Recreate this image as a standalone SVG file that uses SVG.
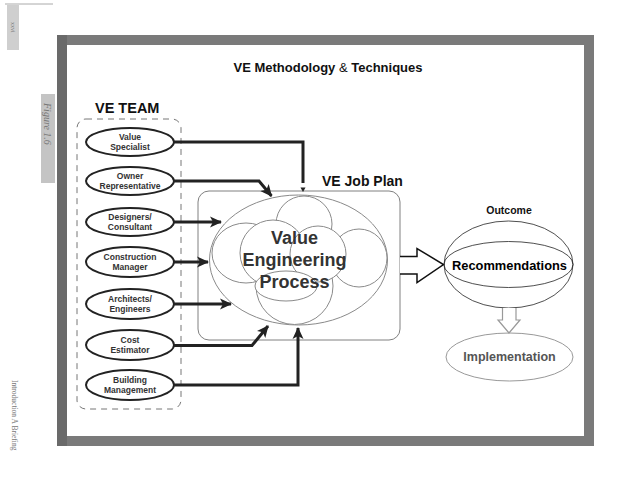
<svg xmlns="http://www.w3.org/2000/svg" width="638" height="493" viewBox="0 0 638 493">
<defs>
<style>
.lbl{font-family:"Liberation Sans",Arial,sans-serif;font-weight:bold;text-anchor:middle}
.team ellipse{fill:#fff;stroke:#222;stroke-width:2}
.team text{font-family:"Liberation Sans",Arial,sans-serif;font-weight:bold;font-size:8.5px;fill:#333;text-anchor:middle}
.cloud{fill:#fff;stroke:#8a8a8a;stroke-width:1}
.conn{fill:none;stroke:#222;stroke-width:3;marker-end:url(#ah)}
.side{font-family:"Liberation Serif","Times New Roman",serif;fill:#777}
</style>
<marker id="ah" markerUnits="userSpaceOnUse" markerWidth="12" markerHeight="12" viewBox="0 0 12 12" refX="11" refY="6" orient="auto">
<path d="M0,0.5 L12,6 L0,11.5 L3,6 Z" fill="#222"/>
</marker>
</defs>
<rect width="638" height="493" fill="#fff"/>

<!-- page margin artefacts -->
<g id="margin">
<line x1="5" y1="4" x2="53" y2="4" stroke="#aaa" stroke-width="1"/>
<rect x="7" y="5" width="12" height="45" fill="#cfcfcf"/>
<text class="side" font-size="6" transform="translate(11,22) rotate(90)">xxvi</text>
<rect x="41" y="94" width="14" height="89" fill="#c4c4c4"/>
<text class="side" font-size="10" font-style="italic" fill="#555" transform="translate(44,103) rotate(90)">Figure 1.6</text>
<text class="side" font-size="7.5" transform="translate(12,380) rotate(90)">Introduction   A Briefing</text>
</g>

<!-- frame -->
<rect x="62" y="40" width="527" height="401" fill="none" stroke="#7a7a7a" stroke-width="10"/>
<line x1="62" y1="35" x2="62" y2="446" stroke="#6a6a6a" stroke-width="10"/>

<text class="lbl" x="328" y="72" font-size="13" fill="#111">VE Methodology <tspan font-weight="normal">&amp;</tspan> Techniques</text>

<!-- VE Team -->
<g id="ve-team">
<rect x="77" y="119" width="104" height="290" rx="9" fill="none" stroke="#777" stroke-width="1" stroke-dasharray="6 5"/>
<text x="95" y="113" font-family="Liberation Sans,Arial,sans-serif" font-weight="bold" font-size="14.5" fill="#111">VE TEAM</text>
</g>
<g id="value-specialist" class="team"><ellipse cx="130" cy="142" rx="44" ry="14"/><text x="130" y="139.8">Value</text><text x="130" y="150.3">Specialist</text></g>
<g id="owner-representative" class="team"><ellipse cx="130" cy="181" rx="44" ry="14"/><text x="130" y="178.8">Owner</text><text x="130" y="189.3">Representative</text></g>
<g id="designers-consultant" class="team"><ellipse cx="130" cy="222" rx="44" ry="14"/><text x="130" y="219.8">Designers/</text><text x="130" y="230.3">Consultant</text></g>
<g id="construction-manager" class="team"><ellipse cx="130" cy="262" rx="44" ry="15"/><text x="130" y="259.8">Construction</text><text x="130" y="270.3">Manager</text></g>
<g id="architects-engineers" class="team"><ellipse cx="130" cy="304" rx="44" ry="15"/><text x="130" y="301.8">Architects/</text><text x="130" y="312.3">Engineers</text></g>
<g id="cost-estimator" class="team"><ellipse cx="130" cy="345" rx="44" ry="15"/><text x="130" y="342.8">Cost</text><text x="130" y="353.3">Estimator</text></g>
<g id="building-management" class="team"><ellipse cx="130" cy="385" rx="44" ry="15"/><text x="130" y="382.8">Building</text><text x="130" y="393.3">Management</text></g>

<!-- VE Job Plan -->
<g id="ve-job-plan">
<rect x="198" y="191" width="202" height="149" rx="11" fill="#fff" stroke="#808080" stroke-width="1"/>
<text x="322" y="186" font-family="Liberation Sans,Arial,sans-serif" font-weight="bold" font-size="14" fill="#111">VE Job Plan</text>
</g>
<g id="value-engineering-process">
<ellipse class="cloud" cx="298.5" cy="260" rx="89" ry="65"/>
<circle class="cloud" cx="304" cy="224" r="28"/>
<ellipse class="cloud" cx="246" cy="253" rx="34" ry="30"/>
<ellipse class="cloud" cx="359" cy="258" rx="28" ry="29"/>
<circle class="cloud" cx="294.5" cy="286" r="38.5"/>
<circle class="cloud" cx="273" cy="253" r="33"/>
<circle class="cloud" cx="318" cy="254" r="28"/>
<ellipse class="cloud" cx="286" cy="286" rx="31" ry="15"/>
<g class="lbl" font-size="18" fill="#333">
<text x="294.5" y="244">Value</text>
<text x="294.5" y="266">Engineering</text>
<text x="294.5" y="288">Process</text>
</g>
</g>

<!-- Outcome -->
<g id="recommendations">
<text class="lbl" x="509" y="214" font-size="10.5" fill="#111">Outcome</text>
<ellipse cx="508.5" cy="264.5" rx="64.5" ry="43.5" fill="#fff" stroke="#222" stroke-width="0.8"/>
<ellipse cx="508.5" cy="264.5" rx="64.5" ry="23" fill="none" stroke="#222" stroke-width="0.8"/>
<text class="lbl" x="509.5" y="270" font-size="13.5" fill="#000" textLength="115" lengthAdjust="spacingAndGlyphs">Recommendations</text>
</g>
<g id="implementation">
<ellipse cx="509.5" cy="357" rx="63.5" ry="24" fill="#fff" stroke="#999" stroke-width="1"/>
<text class="lbl" x="509.5" y="360.5" font-size="12.5" fill="#555">Implementation</text>
</g>

<!-- connectors -->
<g id="connectors">
<path d="M174,142 H303 V183" fill="none" stroke="#222" stroke-width="3"/>
<path d="M300.5,187.5 L305.5,187.5 L303,192 Z" fill="#222"/>
<path class="conn" d="M174,181 H259 L271.5,196"/>
<path class="conn" d="M174,222 H221"/>
<path class="conn" d="M174,262 H208"/>
<path class="conn" d="M174,304 H231"/>
<path class="conn" d="M174,345.5 H252 L268,326"/>
<path class="conn" d="M174,385 H298 V328"/>
<path d="M400,256.5 H417 V248.5 L443.5,264.5 L417,282.5 V274 H400" fill="#fff" stroke="#111" stroke-width="1.5" stroke-linejoin="miter"/>
<path d="M502.5,308 V320 H498 L509,333 L520,320 H516 V308" fill="#fff" stroke="#999" stroke-width="1.2"/>
</g>
</svg>
